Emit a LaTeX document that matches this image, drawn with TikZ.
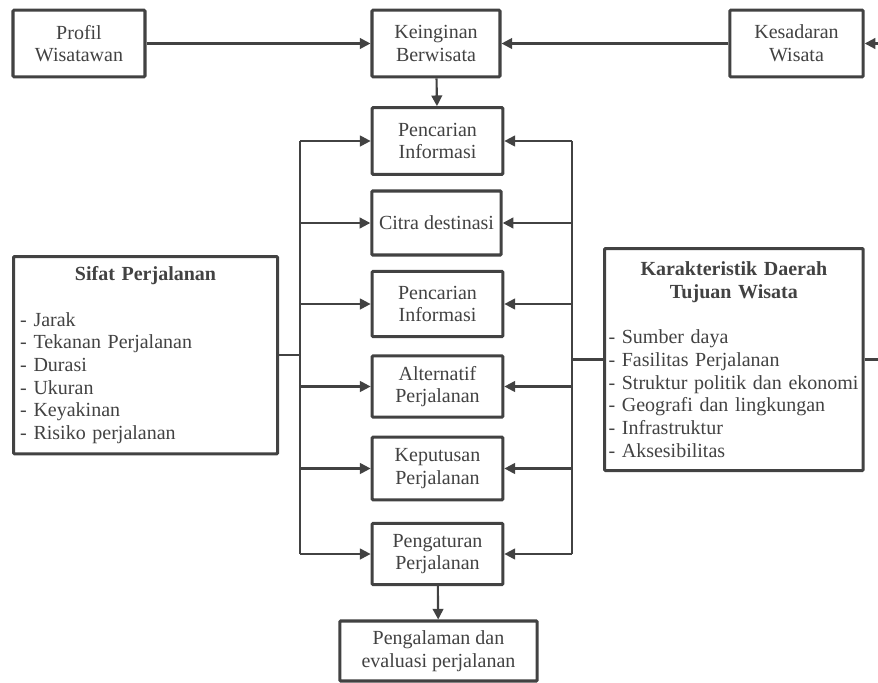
\documentclass[tikz,border=0pt]{standalone}
\usepackage{fontspec}
\setmainfont{Liberation Serif}
\usetikzlibrary{arrows.meta}
\definecolor{inkgray}{HTML}{424242}
\tikzset{
    stagebox/.style={draw=inkgray, line width=2.3pt, rounded corners=0.8pt, fill=white,
        text=inkgray, align=center, inner sep=2pt, font=\fontsize{15}{17}\selectfont},
    listbox/.style={stagebox, anchor=north west, align=left, inner xsep=5pt},
    flow/.style={draw=inkgray, line width=1.6pt},
}
\begin{document}
\begin{tikzpicture}[x=0.75pt, y=-0.75pt, >={Triangle[length=8pt,width=8pt]}]
    \useasboundingbox (0,0) rectangle (878,682);
    \clip (0,0) rectangle (878,682);
    % Top row
    \node[stagebox, minimum width=99pt, minimum height=50pt] (prof) at (79,43.5) {Profil\\Wisatawan};
    \node[stagebox, minimum width=96pt, minimum height=50pt] (want) at (436,43.5) {Keinginan\\Berwisata};
    \node[stagebox, minimum width=100pt, minimum height=50pt] (aware) at (796.5,43.5) {Kesadaran\\Wisata};
    % Stages
    \node[stagebox, minimum width=98pt, minimum height=50pt] (info1) at (437.5,141) {Pencarian\\Informasi};
    \node[stagebox, minimum width=97pt, minimum height=48pt] (img) at (436.5,223) {Citra destinasi};
    \node[stagebox, minimum width=98pt, minimum height=49pt] (info2) at (437.5,304) {Pencarian\\Informasi};
    \node[stagebox, minimum width=98pt, minimum height=46pt] (alt) at (437.5,386.5) {Alternatif\\Perjalanan};
    \node[stagebox, minimum width=98pt, minimum height=47pt] (dec) at (437.5,468.5) {Keputusan\\Perjalanan};
    \node[stagebox, minimum width=98pt, minimum height=46pt] (arr) at (437.5,554) {Pengaturan\\Perjalanan};
    \node[stagebox, minimum width=148pt, minimum height=45pt] (exp) at (438.5,651) {Pengalaman dan\\evaluasi perjalanan};
    % Side boxes
    \node[listbox, text width=188pt, minimum height=148pt] (trip) at (12,255)
        {\centering\textbf{Sifat Perjalanan}\par\vspace{17pt}\raggedright
         - Jarak\\- Tekanan Perjalanan\\- Durasi\\- Ukuran\\- Keyakinan\\- Risiko perjalanan};
    \node[listbox, inner xsep=3pt, text width=188pt, minimum height=166.5pt] (dest) at (603,247)
        {\centering\textbf{Karakteristik Daerah}\\\textbf{Tujuan Wisata}\par\vspace{17pt}\raggedright
         - Sumber daya\\- Fasilitas Perjalanan\\- Struktur politik dan ekonomi\\- Geografi dan lingkungan\\- Infrastruktur\\- Aksesibilitas};
    % Buses
    \coordinate (lbus) at (300,0);
    \coordinate (rbus) at (572,0);
    \coordinate (rcut) at (890,0);
    % Top arrows
    \draw[flow, ->] (prof) -- (want);
    \draw[flow, ->] (aware) -- (want);
    \draw[flow, ->] (rcut |- aware) -- (aware);
    \draw[flow, ->] (want) -- (info1);
    \draw[flow, ->] (arr) -- (exp);
    % Left and right feeds
    \draw[flow] (lbus |- info1) -- (lbus |- arr);
    \draw[flow] (rbus |- info1) -- (rbus |- arr);
    \draw[flow] (trip.east) -- (lbus |- trip.east);
    \draw[flow] (dest.west) -- (rbus |- dest.west);
    \draw[flow] (dest.east) -- (rcut |- dest.east) -- (rcut |- aware);
    \foreach \st in {info1,img,info2,alt,dec,arr} {
        \draw[flow, ->] (lbus |- \st) -- (\st.west);
        \draw[flow, ->] (rbus |- \st) -- (\st.east);
    }
\end{tikzpicture}
\end{document}
